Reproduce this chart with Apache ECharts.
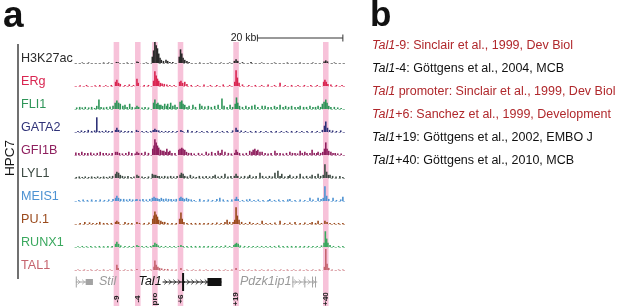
<!DOCTYPE html>
<html>
<head>
<meta charset="utf-8">
<style>
html, body { margin: 0; padding: 0; background: #fff; }
#main { width: 617px; height: 308px; }
</style>
<script src="https://cdn.jsdelivr.net/npm/echarts@6.0.0/dist/echarts.min.js"></script>
</head>
<body>
<div id="main"></div>
<script>
// ---- data: genomic positions in kb relative to the Tal1 promoter ----
var trackNames = ['H3K27ac', 'ERg', 'FLI1', 'GATA2', 'GFI1B', 'LYL1', 'MEIS1', 'PU.1', 'RUNX1', 'TAL1'];

var h3k27ac = [[-17.0,0.5],[-15.5,0.5],[-12.0,0.5],[-10.8,0.5],[-9.0,1],[-8.6,0.8],[-6.5,0.5],[-4.2,1.5],[-3.9,1],[-2.0,0.5],
  [-0.6,6],[-0.3,12],[0,20],[0.3,17],[0.6,14],[0.9,9],[1.2,5],[1.5,3],[2.0,2],[2.6,3],[3.0,2],[3.5,1],[4.2,1],
  [5.7,6],[6.0,13],[6.3,9],[6.6,5],[7.0,3],[7.5,2],[8.0,1],[10.5,0.5],[13.0,0.5],[15.5,0.5],[17.5,0.5],
  [18.6,2],[19.0,3.5],[19.4,2],[20.5,0.8],[22.5,1],[25,0.5],[28,0.5],[31,0.5],[34,0.5],[37,0.5],[39.6,1.5],[40.0,2.5],[40.4,1.5],[42,0.5]];
var erg = [[-17.5,0.8],[-16,1],[-14,0.8],[-12.9,1],[-11.5,0.8],[-10.2,1],[-9.2,4],[-8.9,6],[-8.5,3],[-8.1,2],[-7.0,1],[-6.0,1.5],[-5.0,1],[-4.2,7],[-3.9,3],[-2.5,1],[-1.5,1],
  [-0.3,5],[0,14],[0.3,10],[0.6,7],[0.9,5],[1.3,3],[1.7,2.5],[2.2,2],[2.8,1.5],[3.5,1],[4.5,1],
  [5.8,4],[6.1,5],[6.5,3],[7.0,4],[7.5,2],[8.5,1],[10,1],[11.5,1.5],[13,1],[14.5,1],[16,1.5],[17.5,1],
  [18.7,4],[19.0,15],[19.3,8],[19.7,3],[20.5,1.5],[22,1],[23.5,1],[25,1],[26.5,1.5],[28,1],[29.3,3],[30.5,1],[32,1],[33.5,1],[35,1],[36.5,1],[38,1],
  [39.5,4],[39.8,6],[40.1,4],[40.5,2],[41.2,1.5],[42.5,1],[43.8,1]];
var fli1 = [[-18.3,1.5],[-17.6,2],[-17,1.5],[-16.3,2],[-15.5,1.5],[-14.8,2],[-14.1,1],[-13.6,3],[-13.1,9],[-12.6,2],[-12,1.5],[-11.3,2],[-10.5,2.5],[-9.8,3],[-9.3,6],[-8.9,8],[-8.5,6],[-8.1,5],[-7.5,3],[-7.0,4],[-6.5,2],[-5.9,5],[-5.3,2],[-4.6,1.5],[-4.2,3],[-3.8,2],[-3.0,1.5],[-2.3,2],[-1.5,1.5],
  [-0.3,6],[0,9],[0.4,5],[0.7,6],[1.0,4],[1.4,4],[1.8,3],[2.3,5],[2.8,3],[3.0,5],[3.5,2],[3.7,6],[4.2,3],[4.7,4],[5.2,2],[5.9,7],[6.3,8],[6.6,5],[7.0,4],[7.5,2],[8.0,3],[8.9,4],[9.5,2],[10.5,5],[11.0,3],[11.7,2.5],[12.5,3],[13.2,2],[14.0,3],[14.8,4],[15.7,10],[16.2,3],[16.9,2],[17.6,4],[18.2,2],
  [18.8,5],[19.1,11],[19.4,6],[19.8,3],[20.5,2],[21.3,3],[22,2],[22.7,3],[23.4,4],[24.1,2],[25.1,3],[25.8,3],[26.5,2],[27.2,2],[28,3],[28.6,2],[29.3,4],[30,2],[30.6,3],[31.3,2],[32,3],[32.8,2],[33.5,2],[34,3],[34.8,2],[35.5,2],[36.3,3],[37,2],[37.6,2],[38.2,3],[38.8,2],
  [39.2,5],[39.6,7],[40.0,9],[40.3,6],[40.7,3],[41.2,2],[42,2],[42.8,1.5],[43.6,1]];
var gata2 = [[-18,1],[-17.2,1.5],[-16.4,1],[-15.6,2],[-14.8,1],[-14.1,1.5],[-13.6,14],[-13.0,1],[-12.3,1],[-11.5,1.5],[-10.8,1],[-10,1],[-9.2,2],[-8.9,4],[-8.5,2],[-7.9,1.5],[-7,1],[-6.2,1],[-5.4,1],[-4.3,2],[-3.9,1],[-3,1],[-2,1],[-1,1],
  [-0.4,2],[0,3],[0.4,2],[0.9,1.5],[1.6,1],[2.5,1],[3.3,1],[4.2,1],[5.2,1],[6.1,2],[6.5,1],[7.7,2],[8.7,1],[9.8,1],[11,1],[12.2,1],[13.4,1],[14.6,1],[15.8,1],[16.9,1],[18.2,1.5],
  [19.0,4],[19.4,2],[20.2,1.5],[21.2,1],[22.4,1],[23.6,1],[24.8,1],[26,1],[27.2,1],[28.4,1],[29.6,1],[30.8,1],[32,1],[33.2,1],[34.4,1],[35.6,1],[36.8,1],[38,1],
  [39.2,2],[39.7,6],[40.0,10],[40.4,4],[40.9,2],[41.6,1.5],[42.5,1],[43.5,1.5]];
var gfi1b = [[-18.5,2.5],[-17.8,2],[-17.1,3],[-16.4,2],[-15.7,2],[-15,2.5],[-14.3,1.5],[-13.5,2],[-12.8,3],[-12.1,2],[-11.4,2],[-10.7,1.5],[-10,2],[-9.2,3],[-8.8,3],[-8.3,2],[-7.6,1.5],[-6.8,2],[-6.1,3],[-5.4,2],[-4.6,1.5],[-4.2,3],[-3.8,2],[-3.1,2],[-2.3,3],[-1.5,2],
  [-0.5,6],[-0.2,9],[0,15],[0.3,12],[0.6,9],[0.9,7],[1.3,5],[1.7,4],[2.1,4],[2.5,3],[2.8,6],[3.2,3],[3.5,4],[4.0,2],[4.7,2],
  [5.6,5],[5.9,6],[6.3,7],[6.6,6],[7.0,5],[7.4,3],[7.9,2],[8.5,2],[9.2,1.5],[10.2,2],[11.0,1.5],[12.0,3],[12.6,1.5],[13.3,3],[14.1,2],[14.8,4],[15.3,2],[15.7,5],[16.4,3],[17.2,2],[17.9,1.5],
  [18.7,2],[19.0,5],[19.3,3],[19.8,2],[20.6,1.5],[21.4,2],[22.2,4],[22.7,3],[23.0,5],[23.4,6],[23.8,4],[24.1,5],[24.6,3],[25.1,3],[25.8,2],[26.5,1.5],[27.2,2],[28.1,4],[28.6,2],[29.3,2],[30.0,1.5],[30.8,2],[31.6,3],[32.2,2],[32.8,2],[33.4,1.5],[34.0,4],[34.5,2],[35.1,3],[35.6,2],[36.3,2],[36.8,5],[37.3,2],[37.9,2],[38.2,3],[38.8,2],
  [39.3,3],[39.7,6],[40.0,12],[40.3,6],[40.7,4],[41.2,3],[41.7,2],[42.2,2],[42.8,1.5],[43.6,1.5]];
var lyl1 = [[-18.4,1],[-17.7,1.5],[-17,1],[-16.3,1.5],[-15.5,1],[-14.8,1.5],[-14.1,1],[-13.4,1.5],[-12.7,1],[-12,1.5],[-11.3,1],[-10.6,1.5],[-9.9,2],[-9.2,4],[-8.9,6],[-8.5,5],[-8.1,3],[-7.6,2],[-7,1.5],[-6.3,2],[-5.6,1],[-4.9,1.5],[-4.2,3],[-3.8,2],[-3,1.5],[-2.3,1],[-1.5,1.5],
  [-0.6,4],[-0.2,3],[0.2,3],[0.6,2],[1,2],[1.6,1.5],[2.3,2],[3,1.5],[3.7,2],[4.4,1.5],[5.2,2],[5.9,3],[6.2,5],[6.6,4],[7.0,2],[7.6,1.5],[8.3,3],[9,1.5],[9.7,1],[10.4,2],[11.2,1.5],[12,2],[12.8,1.5],[13.6,2],[14.1,3],[14.8,1.5],[15.6,2],[16.4,4],[17.1,1.5],[17.8,2],
  [18.6,2],[19.0,4],[19.4,2],[20.2,1.5],[21,2],[21.8,1.5],[22.2,3],[23,1.5],[23.7,2],[24.6,5],[25.2,2],[26,1.5],[26.8,2],[27.5,1.5],[28.1,5],[28.8,7],[29.3,2],[29.7,4],[30.4,1.5],[31.2,2],[31.6,3],[32.4,1.5],[33.2,2],[34.0,4],[34.7,1.5],[35.5,2],[36.3,1.5],[36.8,3],[37.5,2],[38.2,4],[38.8,2],
  [39.4,3],[39.8,13],[40.2,6],[40.6,3],[41.0,3],[41.6,2],[42.4,1.5],[43.3,2],[44.0,1]];
var meis1 = [[-17.8,1],[-16.8,1.5],[-15.8,1],[-14.8,1.5],[-13.8,1],[-12.8,1.5],[-11.8,1],[-10.8,1.5],[-9.8,2],[-9.2,3],[-8.9,5],[-8.5,3],[-8.0,2],[-7.3,2],[-6.6,1.5],[-5.9,2],[-5.2,1.5],[-4.5,1.5],[-4.2,2],[-3.5,1.5],[-2.8,2],[-2.0,1.5],[-1.2,2],
  [-0.6,3],[-0.2,4],[0.2,3],[0.6,2.5],[1.0,2],[1.5,3],[2.0,2],[2.6,2.5],[3.2,2],[3.8,2],[4.4,1.5],[5.0,2],[5.8,3],[6.1,4],[6.5,3],[6.9,2],[7.4,3],[7.9,2],[8.5,1.5],[9.2,1],[10.5,2],[11.5,1],[12.5,1.5],[13.5,1],[14.5,2],[15.2,3],[16.0,1.5],[17.0,1],[18.0,1.5],
  [18.8,2],[19.1,4],[19.5,2],[20.5,1],[21.5,1.5],[22.2,2],[23.2,1],[24.2,1.5],[25.3,1],[26.5,1],[26.9,2],[28,1],[29,1.5],[30,1],[31.1,1.5],[31.6,2],[32.8,1],[34,1.5],[35.1,1],[36.3,3],[37,1.5],[38.2,3],[38.9,2],
  [39.4,3],[39.8,14],[40.2,5],[40.7,2],[41.7,3],[42.5,1],[43.5,1.5],[44.0,4]];
var pu1 = [[-17.5,1],[-16.4,2],[-15.3,1.5],[-14.5,1],[-13.6,1],[-12.9,2],[-12.0,1],[-11.2,1],[-10.2,1],[-9.2,2],[-8.9,3],[-8.5,2],[-7.0,2],[-6.2,1],[-5.4,1],[-4.2,2],[-3.6,1],[-2.5,1],[-1.4,1.5],
  [-0.5,5],[-0.2,8],[0,12],[0.3,9],[0.6,7],[0.9,4],[1.4,3],[1.8,2],[2.3,2],[3.0,1],[4.0,1],[5.0,1],[5.8,5],[6.1,11],[6.4,5],[6.8,2],[7.5,1],[8.5,1],[9.5,1],[10.5,1],[11.5,1],[12.5,1],[13.5,1],[14.5,1.5],[15.5,1],[16.4,2],[16.9,4],[17.5,2],[18.3,2],
  [18.7,4],[19.0,16],[19.3,8],[19.7,4],[20.3,2],[21.2,1],[22.2,2],[23.0,1],[24.0,1],[25.1,3],[26.0,1],[27.0,1],[28.1,1.5],[29.3,3],[30.4,1],[31.6,1.5],[32.8,2],[34.0,1],[35.1,1.5],[36.3,1],[36.8,2],[37.6,1],[38.2,3],[39.0,1],
  [39.8,3],[40.3,2],[41.0,1],[42.0,1],[43.0,1],[44.0,1]];
var runx1 = [[-18,0.8],[-17,1],[-16,0.8],[-15,1],[-14,0.8],[-13,1],[-12,0.8],[-11,1],[-10,1],[-9.2,3],[-8.9,5],[-8.5,3],[-8.0,1.5],[-7.0,1],[-6,1],[-5,1],[-4.2,2],[-3.8,1],[-3,1],[-2,1],[-1,1],
  [-0.4,2],[0,4],[0.4,3],[0.8,1.5],[1.5,1],[2.5,1],[3.5,1],[4.5,1],[5.5,1],[6.1,2],[6.6,1],[7.5,1],[8.5,1],[9.5,1],[10.5,1],[11.5,1],[12.5,1],[13.5,1],[14.5,1],[15.5,1],[16.5,1.5],[17.5,1],
  [18.5,2],[18.8,3],[19.1,4],[19.5,3],[20,1.5],[21,1],[22,1],[23,1],[24,1],[25,1],[26,1],[27,1],[28,1],[29,1.5],[30,1],[31,1],[32,1],[33,1],[34,1],[35,1],[36,1],[37,1],[38,1],
  [39,1.5],[39.6,4],[39.9,15],[40.2,8],[40.5,4],[41,2],[41.8,1],[43,1],[44,1]];
var tal1 = [[-18,0.5],[-16.5,0.5],[-15,0.5],[-13.5,0.5],[-12,0.5],[-10.5,0.5],[-8.9,5],[-8.6,2],[-7,0.5],[-5.5,0.5],[-4.2,1],[-2.5,0.5],[-1,0.5],
  [-0.2,3],[0,9],[0.3,5],[0.7,3],[1.1,2],[1.6,1.5],[2.3,1],[3,1],[4,0.5],[5,0.5],[6.1,2],[7.5,0.5],[9,0.5],[10.5,0.5],[12,0.5],[13.5,0.5],[15,0.5],[16.5,0.5],[18,0.5],
  [19.0,2],[20.5,0.5],[22,0.5],[23.5,0.5],[25,0.5],[26.5,0.5],[28,0.5],[29.5,0.5],[31,0.5],[32.5,0.5],[34,0.5],[35.5,0.5],[37,0.5],[38.5,0.5],
  [39.7,3],[40.0,20],[40.3,6],[40.7,2],[41.5,0.5],[43,0.5],[44,0.5]];
var trackData = [h3k27ac, erg, fli1, gata2, gfi1b, lyl1, meis1, pu1, runx1, tal1];

// Tal1 regulatory elements (kb from promoter)
var elementNames = ['-9', '-4', 'pro', '+6', '+19', '+40'];
var elementPos = [-9, -4, 0, 6, 19, 40];

// gene models
var geneNames = ['Stil', 'Tal1', 'Pdzk1ip1'];
var geneStart = [-18.5, 1.8, 32.2];
var geneEnd = [-14.5, 15.6, 38.0];
var exonGene = [0, 0, 1, 1, 2, 2, 2, 2];
var exonStart = [-18.4, -16.2, 6.6, 12.3, 32.3, 35.1, 36.9, 37.6];
var exonEnd = [-18.4, -14.5, 6.6, 15.6, 32.3, 35.1, 36.9, 37.6];

var scaleBarKb = 20;
var scaleBarEnd = 44.0;

// panel b
var refElement = ['-9', '-4', ' promoter', '+6', '+19', '+40'];
var refCitation = ['Sinclair et al., 1999, Dev Biol', 'Göttgens et al., 2004, MCB', 'Sinclair et al., 1999, Dev Biol',
  'Sanchez et al., 1999, Development', 'Göttgens et al., 2002, EMBO J', 'Göttgens et al., 2010, MCB'];
var refHighlighted = [true, false, true, true, false, false];

// ---- styles / layout ----
var trackColors = ['#2a2a2a', '#d92550', '#2e9558', '#2f3278', '#8e1f5e', '#3c4a42', '#4d92d2', '#9a4a1c', '#3aa85e', '#c5646e'];
var geneColors = ['#a3a3a3', '#111111', '#a3a3a3'];
var FONT = '"Liberation Sans", Arial, Helvetica, sans-serif';
var X_MIN = -18.7, X_MAX = 44.5, LEFT = 75, WIDTH = 270;
var BAND_HALF = 0.65;
var REF_SIZE = 12.5;

var grids = [], xAxes = [], yAxes = [], series = [], graphics = [];

function addGrid(top, height, yMin, yMax, xLine, yLine) {
  var gi = grids.length;
  grids.push({ left: LEFT, width: WIDTH, top: top, height: height });
  xAxes.push({
    gridIndex: gi, type: 'value', min: X_MIN, max: X_MAX,
    axisLine: xLine ? { show: true, onZero: false, lineStyle: xLine } : { show: false },
    axisTick: { show: false }, axisLabel: { show: false }, splitLine: { show: false }
  });
  yAxes.push({
    gridIndex: gi, type: 'value', min: yMin, max: yMax,
    axisLine: yLine ? { show: true, lineStyle: yLine } : { show: false },
    axisTick: { show: false }, axisLabel: { show: false }, splitLine: { show: false }
  });
  return gi;
}

// scale bar
var sg = addGrid(32, 12, -1, 1);
series.push({
  type: 'custom', xAxisIndex: sg, yAxisIndex: sg, silent: true, clip: false,
  data: [[scaleBarEnd - scaleBarKb, scaleBarEnd]],
  renderItem: function (params, api) {
    var a = api.coord([api.value(0), 0]), b = api.coord([api.value(1), 0]);
    var st = { stroke: '#333', lineWidth: 1 };
    return { type: 'group', children: [
      { type: 'line', shape: { x1: a[0], y1: a[1], x2: b[0], y2: b[1] }, style: st },
      { type: 'line', shape: { x1: a[0], y1: a[1] - 3.5, x2: a[0], y2: a[1] + 3.5 }, style: st },
      { type: 'line', shape: { x1: b[0], y1: b[1] - 3.5, x2: b[0], y2: b[1] + 3.5 }, style: st },
      { type: 'text', x: a[0] - 1, y: a[1], style: { text: scaleBarKb + ' kb', fill: '#222', font: '10.5px ' + FONT,
        align: 'right', verticalAlign: 'middle', textAlign: 'right', textVerticalAlign: 'middle' } }
    ] };
  }
});

// pink bands
var bg = addGrid(42, 264, 0, 1, null, { color: '#f6d3e2', width: 1 });
series.push({
  type: 'custom', xAxisIndex: bg, yAxisIndex: bg, silent: true, clip: false, z: 1,
  data: elementPos.map(function (p) { return [p, 0]; }),
  renderItem: function (params, api) {
    var p = api.value(0);
    var a = api.coord([p - BAND_HALF, 1]), b = api.coord([p + BAND_HALF, 0]);
    return { type: 'rect', shape: { x: a[0], y: a[1], width: b[0] - a[0], height: b[1] - a[1] }, style: { fill: '#f7c2d9' } };
  }
});

// signal tracks
trackNames.forEach(function (name, i) {
  var base = 63 + 23 * i;
  var gi = addGrid(base - 21, 21, 0, 20, { color: trackColors[i], width: 1, type: [1.5, 2.5], opacity: 0.55 });
  series.push({
    type: 'bar', name: name, xAxisIndex: gi, yAxisIndex: gi, silent: true, z: 3,
    barWidth: 1.6, data: trackData[i], itemStyle: { color: trackColors[i] }
  });
  graphics.push({ type: 'text', x: 21, y: base - 4, style: { text: name, fill: trackColors[i], font: '12.6px ' + FONT,
    align: 'left', verticalAlign: 'middle', textAlign: 'left', textVerticalAlign: 'middle' } });
});

// genes
var gg = addGrid(274, 16, -1, 1);
series.push({
  type: 'custom', xAxisIndex: gg, yAxisIndex: gg, silent: true, clip: false, z: 4,
  data: geneNames.map(function (n, i) { return [geneStart[i], geneEnd[i], i]; }),
  renderItem: function (params, api) {
    var i = api.value(2), c = geneColors[i];
    var s = api.coord([api.value(0), 0]), e = api.coord([api.value(1), 0]), y = s[1];
    var ch = [{ type: 'line', shape: { x1: s[0], y1: y, x2: e[0], y2: y }, style: { stroke: c, lineWidth: 1 } }];
    for (var x = s[0] + 3; x < e[0] - 1; x += 4.5) {
      ch.push({ type: 'polyline', shape: { points: [[x - 1.3, y - 2.4], [x + 1.3, y], [x - 1.3, y + 2.4]] },
        style: { stroke: c, fill: null, lineWidth: 0.8 } });
    }
    var right = i === 0;
    ch.push({ type: 'text', x: right ? e[0] + 6 : s[0] - 1, y: y, style: { text: geneNames[i], fill: i === 1 ? '#111' : '#9a9a9a',
      font: 'italic 12.5px ' + FONT, align: right ? 'left' : 'right', verticalAlign: 'middle',
      textAlign: right ? 'left' : 'right', textVerticalAlign: 'middle' } });
    return { type: 'group', children: ch };
  }
});
series.push({
  type: 'custom', xAxisIndex: gg, yAxisIndex: gg, silent: true, clip: false, z: 5,
  data: exonStart.map(function (s, k) { return [s, exonEnd[k], exonGene[k]]; }),
  renderItem: function (params, api) {
    var g = api.value(2), c = geneColors[g];
    var s = api.coord([api.value(0), 0]), e = api.coord([api.value(1), 0]);
    if (e[0] - s[0] < 0.5) {
      var h = g === 1 ? 18 : 11, w = g === 1 ? 2 : 1;
      return { type: 'rect', shape: { x: s[0] - w / 2, y: s[1] - h / 2, width: w, height: h }, style: { fill: c } };
    }
    var hh = g === 1 ? 8 : 6;
    return { type: 'rect', shape: { x: s[0], y: s[1] - hh / 2, width: e[0] - s[0], height: hh }, style: { fill: c } };
  }
});

// element labels under bands
var lg = addGrid(291, 16, -1, 1);
series.push({
  type: 'custom', xAxisIndex: lg, yAxisIndex: lg, silent: true, clip: false, z: 6,
  data: elementPos.map(function (p, i) { return [p, 0]; }),
  renderItem: function (params, api) {
    var c = api.coord([api.value(0), 0]);
    return { type: 'text', x: c[0], y: c[1], rotation: Math.PI / 2,
      style: { text: elementNames[params.dataIndex], fill: '#222', font: 'bold 8px ' + FONT,
        align: 'center', verticalAlign: 'middle', textAlign: 'center', textVerticalAlign: 'middle' } };
  }
});

// panel labels, bracket, HPC7
graphics.push({ type: 'text', x: 3, y: 35, style: { text: 'a', fill: '#111', font: 'bold 37px ' + FONT, verticalAlign: 'bottom', textVerticalAlign: 'bottom' } });
graphics.push({ type: 'text', x: 370, y: 34, style: { text: 'b', fill: '#111', font: 'bold 35px ' + FONT, verticalAlign: 'bottom', textVerticalAlign: 'bottom' } });
graphics.push({ type: 'line', shape: { x1: 18, y1: 44, x2: 18, y2: 279 }, style: { stroke: '#111', lineWidth: 1.2 } });
graphics.push({ type: 'text', x: 10, y: 158, rotation: Math.PI / 2, style: { text: 'HPC7', fill: '#111', font: '13.5px ' + FONT,
  align: 'center', verticalAlign: 'middle', textAlign: 'center', textVerticalAlign: 'middle' } });

refCitation.forEach(function (cit, i) {
  var col = refHighlighted[i] ? '#b0282c' : '#111';
  graphics.push({ type: 'text', x: 372, y: 46 + 23 * i, style: {
    text: '{i|Tal1}{n|' + refElement[i] + ': ' + cit + '}',
    fill: col, fontSize: REF_SIZE, fontFamily: FONT, verticalAlign: 'middle', textVerticalAlign: 'middle',
    rich: {
      i: { fontStyle: 'italic', fontSize: REF_SIZE, fontFamily: FONT, fill: col, color: col },
      n: { fontSize: REF_SIZE, fontFamily: FONT, fill: col, color: col }
    }
  } });
});

var chart = echarts.init(document.getElementById('main'));
chart.setOption({
  animation: false,
  backgroundColor: '#fff',
  grid: grids,
  xAxis: xAxes,
  yAxis: yAxes,
  series: series,
  graphic: { elements: graphics }
});
</script>
</body>
</html>
